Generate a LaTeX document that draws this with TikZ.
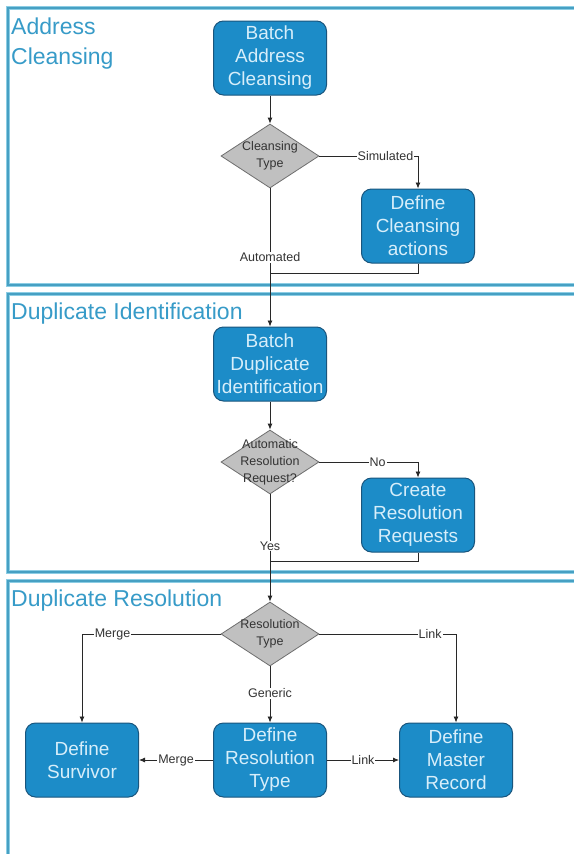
\documentclass[tikz,border=0pt]{standalone}
\usepackage{fontspec}
\setmainfont{Liberation Sans}
\usetikzlibrary{shapes.geometric,arrows.meta}
\definecolor{boxblue}{RGB}{28,140,200}
\definecolor{boxedge}{RGB}{25,85,125}
\definecolor{boxtext}{RGB}{215,238,250}
\definecolor{dgray}{RGB}{192,192,192}
\definecolor{dedge}{RGB}{110,110,110}
\definecolor{lanecol}{RGB}{140,205,228}
\definecolor{lanecore}{RGB}{70,160,195}
\definecolor{titlecol}{RGB}{55,155,200}
\definecolor{linecol}{RGB}{40,40,40}
\begin{document}
\begin{tikzpicture}[x=1pt,y=-1pt,
  procbox/.style={draw=boxedge, line width=1pt, fill=boxblue, rounded corners=10pt,
    minimum width=113pt, minimum height=74pt, inner sep=2pt, align=center,
    text=boxtext, font=\fontsize{19}{23}\selectfont},
  decbox/.style={draw=dedge, line width=0.8pt, fill=dgray, diamond, minimum width=98pt,
    minimum height=64pt, inner sep=0pt},
  dectext/.style={align=center, text=black!80, font=\fontsize{12.5}{17}\selectfont, inner sep=0pt},
  lbl/.style={fill=white, inner sep=1pt, text=black!80, font=\fontsize{12.5}{14}\selectfont},
  arr/.style={draw=linecol, line width=0.8pt, -{Latex[length=6pt,width=5pt]}},
  conn/.style={draw=linecol, line width=0.8pt},
  lane/.style={draw=lanecol, line width=3.5pt, postaction={draw=lanecore, line width=1.3pt}},
  lanetitle/.style={text=titlecol, font=\fontsize{23}{30}\selectfont, align=left, inner sep=0pt}
]
\useasboundingbox (0,0) rectangle (573,854);
\fill[white] (0,0) rectangle (573,854);

% lanes
\draw[lane] (575,8) -- (8,8) -- (8,285) -- (575,285);
\draw[lane] (575,294) -- (8,294) -- (8,572) -- (575,572);
\draw[lane] (575,581) -- (8,581) -- (8,858);

% lane titles
\node[lanetitle, anchor=north west] (t1) at (11,18) {Address\\Cleansing};
\node[lanetitle, anchor=base west] (t2) at (11,319) {Duplicate Identification};
\node[lanetitle, anchor=base west] (t3) at (11,606) {Duplicate Resolution};

% nodes
\node[procbox] (bac) at (270,58) {Batch\\Address\\Cleansing};
\node[decbox] (ct) at (270,156) {};
\node[dectext] (ctt) at (ct) {Cleansing\\Type};
\node[procbox] (dca) at (418,226) {Define\\Cleansing\\actions};

\node[procbox] (bdi) at (270,364) {Batch\\Duplicate\\Identification};
\node[decbox] (ard) at (270,462) {};
\node[dectext] (ardt) at (ard) {Automatic\\Resolution\\Request?};
\node[procbox] (crr) at (418,515) {Create\\Resolution\\Requests};

\node[decbox] (rt) at (270,634) {};
\node[dectext] (rtt) at (rt) {Resolution\\Type};
\node[procbox] (ds) at (82,760) {Define\\Survivor};
\node[procbox] (drt) at (270,760) {Define\\Resolution\\Type};
\node[procbox] (dmr) at (456,760) {Define\\Master\\Record};

\coordinate (j1) at (270,273);
\coordinate (j2) at (270,561);

% connectors
\draw[arr] (bac.south) -- (ct.north);
\draw[arr] (ct.east) -- node[lbl,pos=0.67]{Simulated} (ct.east -| dca.north) -- (dca.north);
\draw[arr] (ct.south) -- node[lbl,pos=0.5]{Automated} (bdi.north);
\draw[conn] (dca.south) |- (j1);

\draw[arr] (bdi.south) -- (ard.north);
\draw[arr] (ard.east) -- node[lbl,pos=0.59]{No} (ard.east -| crr.north) -- (crr.north);
\draw[arr] (ard.south) -- node[lbl,pos=0.48]{Yes} (rt.north);
\draw[conn] (crr.south) |- (j2);

\draw[arr] (rt.west) -- node[lbl,pos=0.78]{Merge} (rt.west -| ds.north) -- (ds.north);
\draw[arr] (rt.east) -- node[lbl,pos=0.81]{Link} (rt.east -| dmr.north) -- (dmr.north);
\draw[arr] (rt.south) -- node[lbl,pos=0.48]{Generic} (drt.north);
\draw[arr] (drt.west) -- node[lbl,pos=0.5]{Merge} (ds.east);
\draw[arr] (drt.east) -- node[lbl,pos=0.5]{Link} (dmr.west);
\end{tikzpicture}
\end{document}
